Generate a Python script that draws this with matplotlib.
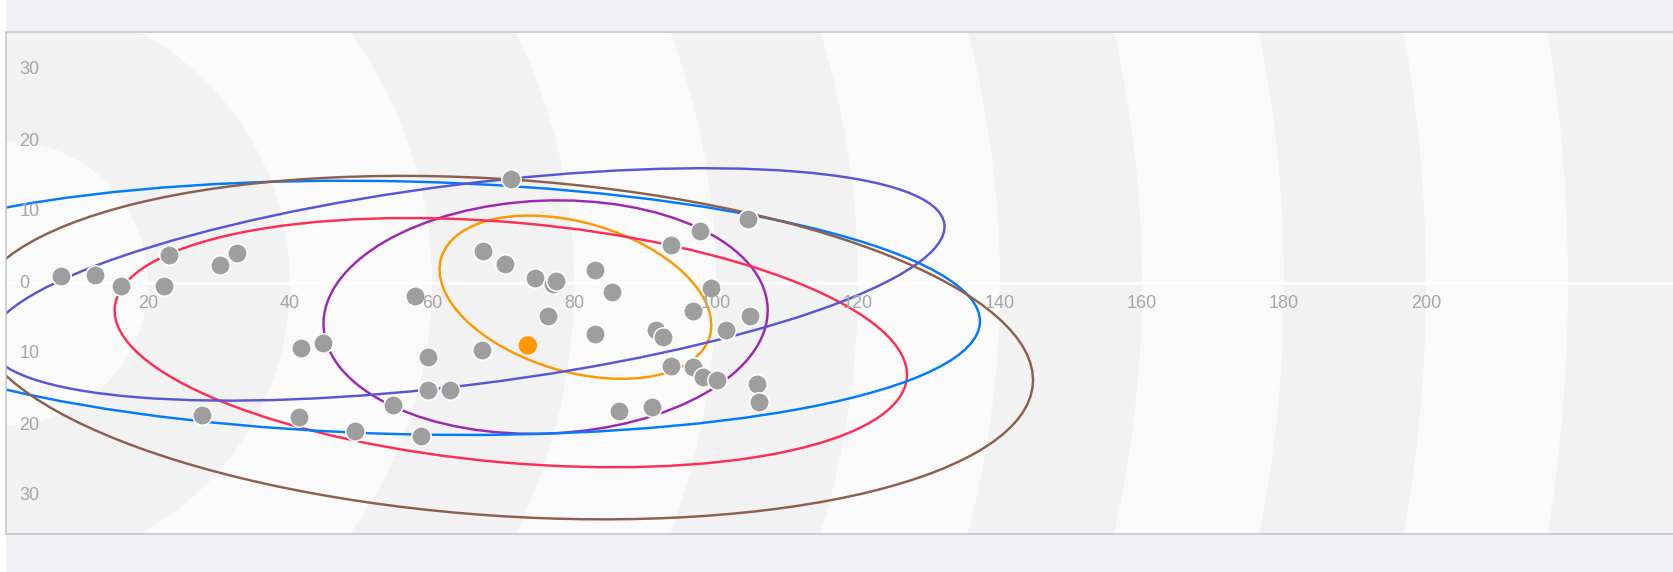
"""Scatter points with fitted ellipses over concentric polar bands."""
import matplotlib
matplotlib.use("Agg")
import matplotlib.pyplot as plt
from matplotlib.patches import Ellipse, Circle, Rectangle

# scatter points (gray)
point_x = [7.8, 12.5, 16.2, 22.9, 22.2, 30.1, 32.6, 41.5, 44.6, 27.6, 41.3, 49.1,
           54.5, 71.1, 104.5, 97.7, 93.7, 67.2, 70.3, 74.5, 77.0, 77.5, 83.0, 85.4,
           57.6, 99.3, 96.8, 104.8, 76.3, 83.0, 91.6, 92.5, 101.4, 67.1, 59.5, 93.7,
           96.8, 98.2, 100.2, 105.8, 106.1, 59.5, 62.5, 86.4, 91.0, 58.4]
point_y = [1.0, 1.1, -0.4, 4.0, -0.4, 2.6, 4.2, -9.1, -8.5, -18.6, -18.9, -20.9,
           -17.2, 14.7, 9.0, 7.3, 5.4, 4.5, 2.7, 0.7, -0.1, 0.3, 1.8, -1.2,
           -1.8, -0.7, -3.9, -4.7, -4.6, -7.2, -6.6, -7.6, -6.6, -9.5, -10.4, -11.7,
           -11.8, -13.2, -13.6, -14.2, -16.7, -15.0, -15.0, -18.0, -17.5, -21.5]

# highlighted point
highlight_x = [73.5]
highlight_y = [-8.8]

# ellipses: centre, semi axes, rotation (degrees)
ellipse_cx = [80.2, 76.0, 71.1, 56.2, 64.9, 70.0]
ellipse_cy = [-2.0, -4.8, -8.4, -3.5, -0.2, -9.1]
ellipse_a = [19.7, 31.3, 56.0, 81.0, 67.8, 74.8]
ellipse_b = [10.5, 16.4, 16.9, 17.8, 14.1, 23.7]
ellipse_angle = [-16.3, 2.4, -5.1, -1.4, 7.2, -3.9]
ellipse_colors = ["#ff9800", "#9c27b0", "#ff2d55", "#007aff", "#5856d6", "#8d5f4c"]

x_ticks = [20, 40, 60, 80, 100, 120, 140, 160, 180, 200]
y_ticks = [30, 20, 10, 0, -10, -20, -30]
ring_radii = [20, 40, 60, 80, 100, 120, 140, 160, 180, 200, 220, 240, 260]

W, H = 1674, 572
PX = 7.1  # pixels per data unit (both axes)
left, top, bottom = 6, 31.7, 534
x0_px, y0_px = 6, 283

fig = plt.figure(figsize=(W / 100, H / 100), dpi=100)
fig.patch.set_facecolor("white")
fig.patches.append(Rectangle((left / W, 0), 1, 1, transform=fig.transFigure,
                             facecolor="#f0f0f5", edgecolor="none", zorder=-10))

ax = fig.add_axes([left / W, (H - bottom) / H, (W - left) / W, (bottom - top) / H])
ax.set_xlim(0, (W - left) / PX)
ax.set_ylim(-(bottom - y0_px) / PX, (y0_px - top) / PX)

# concentric bands, alternating light / dark
for i, r in enumerate(ring_radii[::-1]):
    idx = len(ring_radii) - 1 - i
    color = "#fafafa" if idx % 2 == 0 else "#f2f2f2"
    ax.add_patch(Circle((0, 0), r, facecolor=color, edgecolor="none", zorder=0))

ax.axhline(0, color="white", lw=2.2, zorder=1)

for cx, cy, a, b, ang, col in zip(ellipse_cx, ellipse_cy, ellipse_a, ellipse_b,
                                   ellipse_angle, ellipse_colors):
    ax.add_patch(Ellipse((cx, cy), 2 * a, 2 * b, angle=ang, fill=False,
                         edgecolor=col, lw=1.75, zorder=2))

ax.scatter(point_x, point_y, s=195, c="#9e9e9e", edgecolors="white",
           linewidths=1.1, zorder=3)
ax.scatter(highlight_x, highlight_y, s=175, c="#ff9800", edgecolors="none", zorder=4)

lab = dict(color="#a6a6a6", fontsize=13, family="Liberation Sans")
for t in x_ticks:
    ax.annotate(str(t), xy=(t, 0), xytext=(0, -14.5), textcoords="offset points",
                ha="center", va="center", zorder=5, **lab)
for t in y_ticks:
    ax.annotate(str(abs(t)), xy=(0, t), xytext=(9.6, 0), textcoords="offset points",
                ha="left", va="center", zorder=5, annotation_clip=False, **lab)

ax.set_xticks([])
ax.set_yticks([])
for side in ["top", "left", "bottom"]:
    ax.spines[side].set_color("#c8c8c8")
    ax.spines[side].set_linewidth(1.2)
ax.spines["right"].set_visible(False)

fig.savefig("out.png", dpi=100)
